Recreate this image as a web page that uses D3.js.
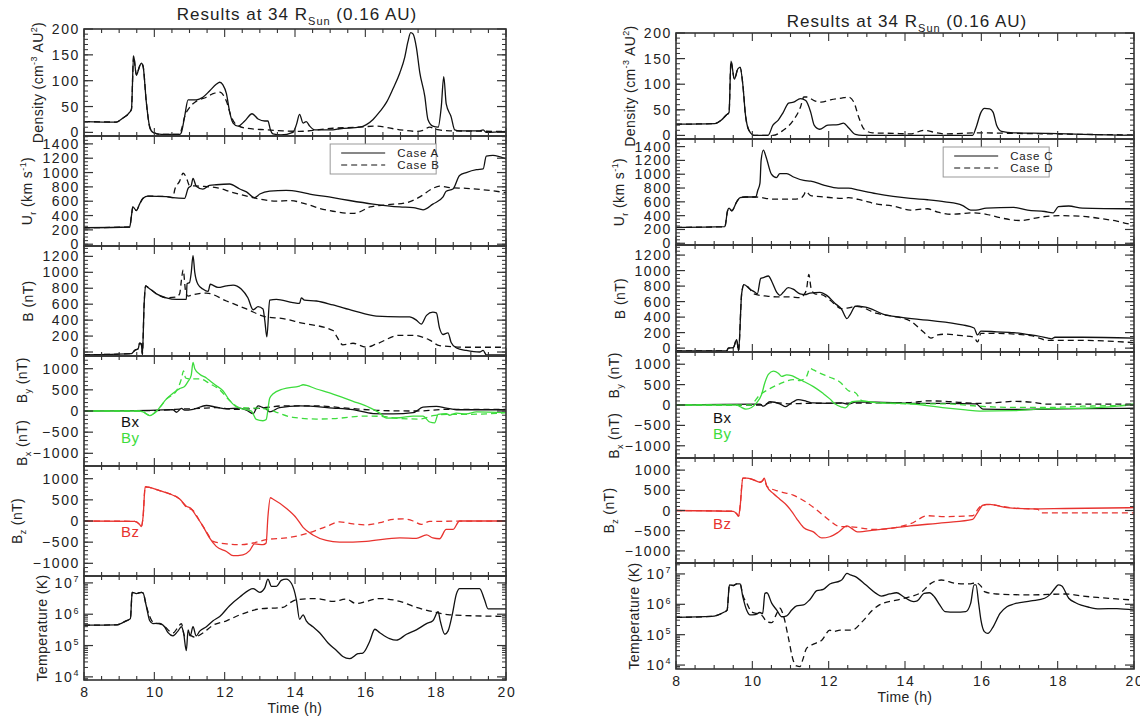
<!DOCTYPE html>
<html>
<head>
<meta charset="utf-8">
<script src="https://cdn.jsdelivr.net/npm/d3@7"></script>
<style>
body { margin: 0; background: #fff; }
text { font-family: "Liberation Sans", Arial, sans-serif; fill: #222; }
</style>
</head>
<body>
<svg id="svg1" width="1140" height="727"></svg>
<script>
// tick values and labels
var timeTicks = [8, 10, 12, 14, 16, 18, 20];
var densTicks = [0, 50, 100, 150, 200];
var speedTicks = [0, 200, 400, 600, 800, 1000, 1200, 1400];
var bTicks = [0, 200, 400, 600, 800, 1000, 1200];
var compTicks = [-1000, -500, 0, 500, 1000];
var tempExp = [4, 5, 6, 7];
var legendLeft = ['Case A', 'Case B'];
var legendRight = ['Case C', 'Case D'];

// ---- left column, case A (solid) / case B (dashed); [time h, value] ----
var densA = [[8,21],[8.92,20],[9.11,28],[9.3,39],[9.35,45],[9.41,148],[9.49,111],[9.58,128],[9.63,134],[9.68,128],[9.77,60],[9.87,10],[9.96,0],[10.2,-4],[10.72,-4],[10.77,0],[10.86,30],[10.96,63],[11.19,63],[11.38,68],[11.57,80],[11.76,93],[11.86,97],[11.95,92],[12.05,75],[12.14,40],[12.24,18],[12.38,12],[12.57,22],[12.78,36],[12.95,26],[13.14,22],[13.23,22],[13.3,5],[13.37,-3],[13.6,-5],[13.94,0],[14.04,15],[14.13,35],[14.23,18],[14.32,21],[14.42,12],[14.56,5],[15.08,5],[15.27,7],[15.84,10],[16.03,15],[16.22,25],[16.41,40],[16.6,58],[16.79,85],[16.98,115],[17.12,145],[17.21,175],[17.29,193],[17.36,190],[17.45,165],[17.55,115],[17.69,70],[17.78,25],[17.92,12],[18.07,10],[18.16,50],[18.23,108],[18.3,55],[18.44,30],[18.54,5],[18.68,3],[19.25,3],[19.35,5],[19.44,0],[20,2]];
var densB = [[8,21],[8.92,20],[9.11,28],[9.3,39],[9.35,45],[9.41,148],[9.49,111],[9.58,128],[9.63,134],[9.68,128],[9.77,60],[9.87,10],[9.96,0],[10.2,-4],[10.72,-4],[10.77,5],[10.86,30],[11,48],[11.19,60],[11.48,68],[11.67,75],[11.86,78],[12.05,60],[12.19,30],[12.33,15],[12.62,8],[13.18,5],[13.66,3],[14.13,2],[15.08,8],[15.74,10],[16.31,12],[16.98,5],[17.45,2],[17.64,4],[17.83,10],[18.02,6],[18.4,3],[20,2]];
var speedA = [[8,230],[9.3,240],[9.35,400],[9.39,520],[9.49,470],[9.58,560],[9.68,640],[9.82,670],[10.34,665],[10.53,650],[10.86,640],[10.96,780],[11.05,820],[11.1,920],[11.19,810],[11.38,770],[11.57,820],[11.76,830],[12.14,840],[12.43,770],[12.62,730],[12.85,650],[13,700],[13.28,740],[13.75,750],[14.13,730],[14.42,700],[15.08,650],[15.55,610],[16.22,560],[16.98,520],[17.36,510],[17.55,490],[17.64,480],[17.92,560],[18.21,660],[18.3,740],[18.49,770],[18.68,960],[18.87,1000],[19.16,1040],[19.35,1050],[19.44,1230],[19.63,1240],[20,1190]];
var speedB = [[8,230],[9.3,240],[9.35,400],[9.39,520],[9.49,470],[9.58,560],[9.68,640],[9.82,670],[10.34,665],[10.53,650],[10.58,760],[10.72,880],[10.82,990],[10.91,930],[11,820],[11.29,810],[11.76,790],[12.24,720],[12.9,640],[13.47,600],[13.85,610],[14.32,560],[14.7,500],[15.08,460],[15.65,430],[15.84,450],[16.13,520],[16.6,550],[17.17,580],[17.55,660],[17.92,780],[18.11,810],[18.4,790],[18.87,780],[19.35,760],[20,720]];
var bA = [[8,-35],[9.35,-20],[9.44,20],[9.54,40],[9.58,110],[9.63,100],[9.66,-30],[9.71,600],[9.75,830],[9.82,810],[10.06,730],[10.34,680],[10.63,660],[10.91,660],[10.93,860],[11,870],[11.05,1000],[11.1,1210],[11.15,1000],[11.24,850],[11.38,790],[11.53,760],[11.59,850],[11.81,810],[12.05,830],[12.24,840],[12.47,790],[12.66,680],[12.81,530],[12.95,570],[13.09,540],[13.14,400],[13.2,190],[13.28,650],[13.47,660],[13.94,620],[14.13,610],[14.18,680],[14.27,650],[14.61,640],[15.08,590],[15.65,520],[16.31,450],[16.98,440],[17.26,440],[17.45,400],[17.59,350],[17.74,460],[17.92,500],[18.02,490],[18.11,300],[18.21,220],[18.35,240],[18.44,120],[18.59,50],[18.87,20],[19.25,0],[19.35,20],[19.44,-35],[20,-35]];
var bB = [[8,-35],[9.35,-20],[9.44,20],[9.54,40],[9.58,110],[9.63,100],[9.66,-30],[9.71,600],[9.75,830],[9.82,810],[10.06,730],[10.34,680],[10.63,690],[10.72,730],[10.77,900],[10.82,1030],[10.89,760],[10.96,700],[11.1,720],[11.48,740],[12.05,640],[12.62,540],[13.18,440],[13.66,420],[14.13,370],[15.08,270],[15.18,200],[15.36,90],[15.65,110],[16.03,60],[16.31,100],[16.98,210],[17.36,210],[17.83,150],[18.11,80],[18.87,60],[20,60]];
var bxA = [[8,0],[10.06,20],[10.53,30],[10.63,-30],[10.77,60],[10.86,20],[11.1,40],[11.48,130],[11.76,90],[12.05,50],[12.43,70],[12.66,0],[12.81,-60],[12.95,120],[13.09,80],[13.18,50],[13.28,-20],[13.56,80],[14.13,120],[15.08,70],[15.65,30],[16.22,-60],[16.79,-70],[17.36,-40],[17.64,90],[18.02,110],[18.3,70],[18.59,30],[20,30]];
var bxB = [[8,0],[10.06,10],[10.6,40],[11.29,60],[11.76,80],[12.24,40],[12.95,60],[13.66,120],[14.61,120],[15.55,60],[16.5,10],[17.45,0],[18.4,40],[20,40]];
var byA = [[8,0],[9.58,0],[9.68,-20],[9.87,-110],[10.01,-50],[10.15,80],[10.34,280],[10.53,420],[10.72,530],[10.86,580],[10.96,700],[11.05,850],[11.1,1150],[11.15,1000],[11.29,870],[11.48,780],[11.57,720],[11.76,600],[11.95,480],[12.14,250],[12.33,100],[12.62,30],[12.76,0],[12.9,-200],[13.09,-230],[13.18,-200],[13.28,300],[13.37,400],[13.66,520],[14.13,590],[14.23,620],[14.61,520],[15.08,400],[15.65,230],[16.12,80],[16.41,-50],[16.6,-170],[16.98,-160],[17.36,-120],[17.64,-120],[17.83,-260],[17.97,-280],[18.07,-80],[18.3,-60],[18.4,-100],[18.59,-50],[18.87,-70],[19.16,-20],[20,-40]];
var byB = [[8,0],[9.58,0],[9.68,-20],[9.87,-100],[10.01,-40],[10.15,80],[10.34,280],[10.63,480],[10.77,760],[10.83,950],[10.89,780],[11,760],[11.29,760],[11.57,650],[11.86,500],[12.14,250],[12.43,80],[12.81,70],[13.18,50],[13.47,-30],[13.94,-150],[14.61,-190],[15.08,-180],[16.03,-120],[16.5,-130],[16.98,-180],[17.55,-190],[17.92,-110],[18.4,-80],[18.87,-80],[20,-40]];
var bzA = [[8,0],[9.44,-10],[9.58,-80],[9.63,-130],[9.68,100],[9.74,810],[9.82,800],[10.15,720],[10.44,640],[10.72,520],[10.91,350],[11.05,290],[11.19,120],[11.38,-120],[11.57,-400],[11.76,-600],[12.05,-720],[12.24,-820],[12.52,-800],[12.71,-700],[12.85,-540],[13.09,-560],[13.18,-520],[13.23,100],[13.3,550],[13.37,520],[13.75,300],[14.04,70],[14.23,-150],[14.51,-330],[14.89,-460],[15.27,-500],[16.03,-480],[16.98,-400],[17.45,-410],[17.74,-330],[17.92,-400],[18.11,-420],[18.3,-200],[18.49,-200],[18.68,0],[20,0]];
var bzB = [[8,0],[9.44,-10],[9.58,-80],[9.63,-130],[9.68,100],[9.74,810],[9.82,800],[10.15,720],[10.44,640],[10.72,520],[10.91,330],[11.1,250],[11.29,0],[11.48,-250],[11.67,-480],[12.05,-540],[12.43,-560],[12.81,-520],[13.18,-440],[13.75,-400],[14.32,-300],[14.89,-130],[15.27,-20],[15.65,-70],[16.03,-90],[16.41,-40],[16.79,40],[17.07,50],[17.36,0],[17.59,-80],[17.83,-10],[20,0]];
// temperature as log10(T / K)
var tempA = [[8,5.65],[8.92,5.66],[9.2,5.79],[9.32,5.86],[9.37,6.7],[9.49,6.66],[9.63,6.7],[9.68,6.68],[9.77,6.27],[9.87,5.79],[9.96,5.7],[10.15,5.71],[10.29,5.6],[10.39,5.41],[10.53,5.31],[10.67,5.46],[10.77,5.6],[10.83,5.41],[10.91,4.84],[10.96,5.5],[11.02,5.31],[11.1,5.6],[11.19,5.31],[11.29,5.46],[11.48,5.6],[11.67,5.79],[11.86,5.93],[12.14,6.27],[12.43,6.55],[12.81,6.82],[13,6.7],[13.14,6.84],[13.23,7.12],[13.33,6.89],[13.47,6.89],[13.61,7.08],[13.75,7.12],[13.9,6.98],[14.04,6.46],[14.13,5.84],[14.23,5.98],[14.32,5.79],[14.51,5.6],[14.7,5.41],[14.94,5.08],[15.18,4.84],[15.36,4.65],[15.55,4.58],[15.79,4.74],[15.93,4.76],[16.12,5.12],[16.27,5.52],[16.41,5.41],[16.69,5.22],[16.88,5.17],[17.17,5.36],[17.45,5.5],[17.74,5.7],[17.92,5.79],[18.07,6.08],[18.13,5.79],[18.26,5.36],[18.35,5.46],[18.47,5.98],[18.59,6.65],[18.68,6.82],[19.25,6.82],[19.39,6.46],[19.49,6.17],[20,6.17]];
var tempB = [[8,5.65],[8.92,5.66],[9.2,5.79],[9.32,5.86],[9.37,6.7],[9.49,6.66],[9.63,6.7],[9.68,6.68],[9.77,6.27],[9.87,5.93],[9.96,5.75],[10.25,5.65],[10.53,5.4],[10.67,5.58],[10.77,5.7],[10.86,5.31],[10.96,5.35],[11.15,5.27],[11.38,5.4],[11.67,5.65],[12.05,5.79],[12.43,5.98],[13,6.17],[13.66,6.22],[13.85,6.36],[14.04,6.46],[14.61,6.5],[15.08,6.41],[15.46,6.48],[15.74,6.34],[16.03,6.41],[16.41,6.5],[16.98,6.41],[17.45,6.22],[17.92,6.08],[18.4,5.98],[20,5.93]];

// ---- right column, case C (solid) / case D (dashed) ----
var densC = [[8,22],[9.01,23],[9.19,30],[9.32,40],[9.39,45],[9.44,145],[9.53,110],[9.62,130],[9.68,133],[9.75,100],[9.82,40],[9.91,10],[10.05,0],[10.41,0],[10.54,20],[10.68,30],[10.81,45],[10.95,63],[11.08,65],[11.26,72],[11.4,68],[11.53,45],[11.62,20],[11.76,12],[11.98,20],[12.25,21],[12.39,24],[12.52,15],[12.7,2],[12.88,0],[15.77,0],[15.86,15],[15.99,45],[16.08,53],[16.22,52],[16.31,45],[16.4,20],[16.53,8],[16.85,5],[17.75,4],[18.65,2],[20,0]];
var densD = [[8,22],[9.01,23],[9.19,30],[9.32,40],[9.39,45],[9.44,145],[9.53,110],[9.62,130],[9.68,133],[9.75,100],[9.82,40],[9.91,10],[10.05,0],[10.54,0],[10.81,10],[11.08,30],[11.26,55],[11.35,75],[11.44,75],[11.62,68],[11.8,65],[12.07,70],[12.34,73],[12.52,75],[12.66,65],[12.79,35],[12.93,12],[13.15,5],[13.69,4],[14.14,3],[14.5,10],[14.77,6],[15.05,3],[15.95,5],[16.85,4],[17.75,3],[18.65,2],[20,1]];
var speedC = [[8,230],[9.28,240],[9.35,470],[9.39,510],[9.46,470],[9.59,600],[9.68,660],[9.82,670],[10.09,670],[10.14,760],[10.2,870],[10.23,1200],[10.29,1350],[10.36,1250],[10.5,1000],[10.63,950],[10.72,1010],[10.9,1010],[11.08,960],[11.35,910],[11.53,900],[11.89,840],[12.25,800],[12.52,800],[12.79,770],[13.24,720],[13.69,680],[14.14,650],[14.59,630],[15.05,600],[15.5,550],[15.72,480],[15.86,480],[16.13,510],[16.85,520],[17.21,480],[17.66,460],[17.88,440],[18.02,530],[18.29,540],[18.65,510],[20,500]];
var speedD = [[8,230],[9.28,240],[9.35,470],[9.39,510],[9.46,470],[9.59,600],[9.68,660],[9.82,670],[10.09,670],[10.54,640],[11.08,640],[11.26,650],[11.35,700],[11.4,750],[11.53,690],[11.89,670],[12.34,650],[12.52,660],[12.88,620],[13.24,570],[13.69,540],[14.14,480],[14.59,500],[14.86,450],[15.23,420],[15.77,440],[16.13,420],[16.49,370],[17.03,330],[17.57,380],[18.02,400],[18.65,390],[19.1,360],[19.55,320],[20,260]];
var bC = [[8,-35],[9.33,-35],[9.37,0],[9.5,5],[9.59,110],[9.64,-35],[9.72,700],[9.78,820],[9.94,760],[10.07,720],[10.13,700],[10.22,900],[10.29,910],[10.42,930],[10.51,860],[10.64,720],[10.72,680],[10.81,720],[10.94,780],[11.07,760],[11.25,700],[11.38,690],[11.51,710],[11.77,720],[11.95,680],[12.16,580],[12.34,500],[12.48,380],[12.57,440],[12.7,540],[12.97,530],[13.42,440],[13.87,400],[14.59,360],[15.5,300],[15.81,260],[15.9,170],[15.99,220],[16.4,210],[16.85,200],[17.3,170],[17.75,130],[17.84,120],[17.93,140],[18.65,140],[20,130]];
var bD = [[8,-35],[9.33,-35],[9.37,0],[9.5,5],[9.59,110],[9.64,-35],[9.72,700],[9.78,820],[9.94,760],[10.03,700],[10.38,670],[10.72,660],[10.99,660],[11.25,650],[11.34,680],[11.42,760],[11.48,950],[11.54,770],[11.64,700],[11.82,690],[12.03,620],[12.34,510],[12.52,520],[12.75,540],[13.24,450],[13.69,410],[14.14,350],[14.5,200],[14.68,130],[14.86,170],[15.05,180],[15.5,160],[15.81,140],[15.9,80],[15.99,190],[16.4,190],[17.3,160],[17.75,100],[18.65,100],[20,70]];
var bxC = [[8,0],[10.2,20],[10.29,-30],[10.46,80],[10.72,30],[10.86,-40],[11.07,80],[11.2,130],[11.42,90],[11.6,50],[11.95,40],[12.34,50],[12.52,20],[12.7,70],[13.24,70],[14.14,40],[15.05,40],[15.86,30],[16.04,-100],[16.85,-110],[17.75,-100],[18.65,-90],[20,-80]];
var bxD = [[8,0],[10.2,0],[10.55,60],[10.99,30],[11.42,40],[13.24,50],[14.14,60],[14.59,100],[15.05,90],[15.5,60],[15.95,40],[16.4,60],[16.85,90],[17.3,70],[17.75,20],[20,20]];
var byC = [[8,0],[9.59,0],[9.68,-40],[9.83,-100],[9.98,-60],[10.11,50],[10.24,250],[10.33,550],[10.42,750],[10.55,830],[10.68,780],[10.77,700],[10.9,740],[11.03,720],[11.16,660],[11.34,580],[11.6,450],[11.86,280],[12.03,150],[12.16,30],[12.34,-50],[12.43,-70],[12.61,80],[12.88,100],[13.24,60],[14.14,30],[15.05,-70],[15.59,-120],[15.95,-150],[16.85,-140],[17.75,-90],[18.65,-80],[19.55,-30],[20,30]];
var byD = [[8,0],[9.94,0],[10.2,250],[10.46,400],[10.72,520],[11.07,620],[11.25,600],[11.42,700],[11.51,900],[11.6,860],[11.77,780],[12.03,680],[12.3,560],[12.52,350],[12.7,300],[12.88,100],[13.24,60],[14.14,30],[15.05,30],[15.95,-30],[16.85,-60],[17.75,-60],[18.65,-30],[20,-10]];
var bzC = [[8,0],[9.5,-20],[9.59,-80],[9.64,-140],[9.68,100],[9.75,800],[9.85,800],[10.03,760],[10.2,700],[10.27,740],[10.31,800],[10.38,600],[10.55,420],[10.72,280],[10.9,130],[11.03,-20],[11.16,-200],[11.34,-420],[11.6,-530],[11.82,-680],[12.03,-650],[12.25,-540],[12.48,-380],[12.61,-450],[12.75,-530],[13.24,-480],[14.14,-380],[15.05,-300],[15.77,-220],[15.9,-50],[16.04,130],[16.22,150],[16.67,70],[17.3,40],[18.2,50],[20,70]];
var bzD = [[8,0],[9.5,-20],[9.59,-80],[9.64,-140],[9.68,100],[9.75,800],[9.85,800],[10.03,760],[10.2,700],[10.27,740],[10.31,780],[10.38,600],[10.72,470],[11.07,380],[11.42,200],[11.77,-50],[12.03,-250],[12.3,-400],[12.48,-400],[13.24,-470],[14.14,-330],[14.59,-130],[15.05,-150],[15.77,-130],[15.95,80],[16.13,150],[16.85,60],[17.48,30],[17.57,-60],[20,-60]];
var tempC = [[8,5.57],[8.93,5.6],[9.24,5.73],[9.34,5.81],[9.4,6.64],[9.5,6.62],[9.59,6.67],[9.68,6.67],[9.75,6.25],[9.85,5.81],[9.94,5.65],[10.07,5.66],[10.2,5.73],[10.27,5.69],[10.33,6.36],[10.38,6.38],[10.51,6.03],[10.64,5.81],[10.77,5.59],[10.9,5.62],[11.03,5.81],[11.16,5.95],[11.34,5.98],[11.51,6.16],[11.69,6.45],[11.86,6.49],[12.03,6.67],[12.3,6.77],[12.34,6.8],[12.48,7.02],[12.57,6.97],[12.7,6.91],[12.97,6.64],[13.24,6.36],[13.38,6.27],[13.6,6.34],[13.78,6.38],[13.96,6.25],[14.23,6.09],[14.32,6.11],[14.5,6.36],[14.64,6.38],[14.77,6.25],[14.91,5.98],[15.05,5.76],[15.32,5.74],[15.59,5.76],[15.72,6.03],[15.81,6.64],[15.86,6.64],[15.93,6.03],[15.99,5.48],[16.08,5.1],[16.17,5.04],[16.31,5.26],[16.49,5.7],[16.67,5.92],[16.85,6.01],[17.3,6.11],[17.66,6.2],[17.79,6.31],[17.93,6.53],[18.02,6.64],[18.11,6.6],[18.29,6.2],[18.47,6.05],[18.83,5.9],[19.1,5.85],[19.55,5.86],[20,5.81]];
var tempD = [[8,5.57],[8.93,5.6],[9.24,5.73],[9.34,5.81],[9.4,6.64],[9.5,6.62],[9.59,6.67],[9.68,6.67],[9.75,6.3],[9.85,6.05],[9.98,5.75],[10.11,5.7],[10.24,5.65],[10.38,5.43],[10.51,5.4],[10.64,5.7],[10.72,5.87],[10.81,5.65],[10.94,4.93],[11.07,4.16],[11.16,3.97],[11.25,3.95],[11.32,4.17],[11.42,4.55],[11.6,4.69],[11.82,4.82],[12.03,5.15],[12.12,5.1],[12.3,5.15],[12.61,5.15],[12.88,5.43],[13.15,5.81],[13.33,5.98],[13.78,6.14],[14.14,6.25],[14.41,6.38],[14.68,6.69],[14.95,6.8],[15.32,6.69],[15.68,6.67],[15.86,6.71],[15.99,6.6],[16.08,6.42],[16.4,6.34],[17.3,6.31],[18.2,6.34],[18.65,6.27],[19.1,6.22],[20,6.14]];

var GREEN = '#3ddc3d', RED = '#e8332f', INK = '#111';
var svg = d3.select('#svg1');

var columns = [
    {x0: 84, x1: 506, edges: [29, 136, 246, 356, 466, 576, 680], titleY: 20, tExp: [3.9, 7.22], names: legendLeft,
     dens: [densA, densB], speed: [speedA, speedB], b: [bA, bB], bx: [bxA, bxB], by: [byA, byB], bz: [bzA, bzB], temp: [tempA, tempB]},
    {x0: 676, x1: 1134, edges: [33, 139, 245, 352, 458, 563, 669], titleY: 27, tExp: [3.87, 7.36], names: legendRight,
     dens: [densC, densD], speed: [speedC, speedD], b: [bC, bD], bx: [bxC, bxD], by: [byC, byD], bz: [bzC, bzD], temp: [tempC, tempD]}
];

// writes text with sub/superscripts: parts = [[str, 'sup'|'sub'|undefined], ...]
function rich(sel, parts, size) {
    var shift = 0;
    parts.forEach(function (p) {
        var s = p[1] === 'sup' ? -size * 0.4 : (p[1] === 'sub' ? size * 0.3 : 0);
        sel.append('tspan')
            .attr('dy', s - shift)
            .attr('font-size', s ? Math.round(size * 0.66) : size)
            .text(p[0]);
        shift = s;
    });
    return sel;
}

function fmt(v) { return v < 0 ? '\u2212' + Math.abs(v) : '' + v; }

columns.forEach(function (c, ci) {
    var x = d3.scaleLinear().domain([8, 20]).range([c.x0, c.x1]);

    var title = svg.append('text')
        .attr('x', (c.x0 + c.x1) / 2 + 2)
        .attr('y', c.titleY)
        .attr('text-anchor', 'middle')
        .attr('font-size', 17)
        .attr('letter-spacing', 1);
    rich(title, [['Results at 34 R'], ['Sun', 'sub'], [' (0.16 AU)']], 17);

    var panels = [
        {domain: [-7, 200], ticks: densTicks, minor: 10, off: 46,
         titles: [[[['Density (cm'], ['-3', 'sup'], [' AU'], ['2', 'sup'], [')']], 0.5]],
         lines: [[c.dens[0], INK, false], [c.dens[1], INK, true]]},
        {domain: [-25, 1510], ticks: speedTicks, minor: 50, off: 57,
         titles: [[[['U'], ['r', 'sub'], [' (km s'], ['-1', 'sup'], [')']], 0.5]],
         lines: [[c.speed[0], INK, false], [c.speed[1], INK, true]], legend: true},
        {domain: [-50, 1330], ticks: bTicks, minor: 50, off: 56,
         titles: [[[['B (nT)']], 0.5]],
         lines: [[c.b[0], INK, false], [c.b[1], INK, true]]},
        {domain: [-1300, 1300], ticks: compTicks, minor: 100, off: 62,
         titles: [[[['B'], ['y', 'sub'], [' (nT)']], 0.22], [[['B'], ['x', 'sub'], [' (nT)']], 0.79]],
         lines: [[c.bx[1], INK, true], [c.bx[0], INK, false], [c.by[1], GREEN, true], [c.by[0], GREEN, false]],
         tags: [['Bx', INK, 71], ['By', GREEN, 87]]},
        {domain: [-1300, 1300], ticks: compTicks, minor: 100, off: 67,
         titles: [[[['B'], ['z', 'sub'], [' (nT)']], 0.5]],
         lines: [[c.bz[1], RED, true], [c.bz[0], RED, false]],
         tags: [['Bz', RED, 71]]},
        {log: true, ticks: tempExp, off: 42,
         titles: [[[['Temperature (K)']], 0.5]],
         lines: [[c.temp[1], INK, true], [c.temp[0], INK, false]]}
    ];

    panels.forEach(function (p, i) {
        var top = c.edges[i], bot = c.edges[i + 1];
        var y, yv;
        if (p.log) {
            y = d3.scaleLog().domain([Math.pow(10, c.tExp[0]), Math.pow(10, c.tExp[1])]).range([bot, top]);
            yv = function (v) { return y(Math.pow(10, v)); };
        } else {
            y = d3.scaleLinear().domain(p.domain).range([bot, top]);
            yv = y;
        }
        var g = svg.append('g');
        var clipId = 'clip' + ci + '_' + i;
        svg.append('clipPath').attr('id', clipId)
            .append('rect').attr('x', c.x0).attr('y', top).attr('width', c.x1 - c.x0).attr('height', bot - top);

        var line = d3.line()
            .x(function (d) { return x(d[0]); })
            .y(function (d) { return yv(d[1]); })
            .curve(d3.curveMonotoneX);

        var lg = g.append('g').attr('clip-path', 'url(#' + clipId + ')');
        p.lines.forEach(function (s) {
            lg.append('path')
                .attr('d', line(s[0]))
                .attr('fill', 'none')
                .attr('stroke', s[1])
                .attr('stroke-width', 1.3)
                .attr('stroke-dasharray', s[2] ? '6,4' : null);
        });

        // frame
        g.append('rect')
            .attr('x', c.x0).attr('y', top)
            .attr('width', c.x1 - c.x0).attr('height', bot - top)
            .attr('fill', 'none').attr('stroke', '#333').attr('stroke-width', 1.6);

        // x ticks, every half hour, inward on top and bottom
        d3.range(8, 20.01, 0.5).forEach(function (t) {
            var len = (t % 2 === 0) ? 8 : 4;
            g.append('line').attr('x1', x(t)).attr('x2', x(t)).attr('y1', bot).attr('y2', bot - len)
                .attr('stroke', '#333').attr('stroke-width', 1.1);
            g.append('line').attr('x1', x(t)).attr('x2', x(t)).attr('y1', top).attr('y2', top + len)
                .attr('stroke', '#333').attr('stroke-width', 1.1);
        });

        // y ticks
        var majors, minors = [];
        if (p.log) {
            majors = p.ticks.map(function (e) { return Math.pow(10, e); });
            d3.range(Math.floor(c.tExp[0]), Math.ceil(c.tExp[1])).forEach(function (e) {
                d3.range(2, 10).forEach(function (m) { minors.push(m * Math.pow(10, e)); });
            });
        } else {
            majors = p.ticks;
            minors = d3.range(Math.ceil(p.domain[0] / p.minor) * p.minor, p.domain[1], p.minor);
        }
        var dom = y.domain();
        function inDom(v) { return v >= dom[0] && v <= dom[1]; }
        minors.filter(inDom).forEach(function (v) {
            g.append('line').attr('x1', c.x0).attr('x2', c.x0 + 4).attr('y1', y(v)).attr('y2', y(v))
                .attr('stroke', '#333').attr('stroke-width', 1);
            g.append('line').attr('x1', c.x1).attr('x2', c.x1 - 4).attr('y1', y(v)).attr('y2', y(v))
                .attr('stroke', '#333').attr('stroke-width', 1);
        });
        majors.filter(inDom).forEach(function (v, k) {
            g.append('line').attr('x1', c.x0).attr('x2', c.x0 + 9).attr('y1', y(v)).attr('y2', y(v))
                .attr('stroke', '#333').attr('stroke-width', 1.2);
            g.append('line').attr('x1', c.x1).attr('x2', c.x1 - 9).attr('y1', y(v)).attr('y2', y(v))
                .attr('stroke', '#333').attr('stroke-width', 1.2);
            var t = g.append('text')
                .attr('x', c.x0 - 4)
                .attr('y', y(v) + 5)
                .attr('text-anchor', 'end')
                .attr('font-size', 14)
                .attr('letter-spacing', 1.6);
            if (p.log) {
                rich(t, [['10'], ['' + p.ticks[k], 'sup']], 14);
            } else {
                t.text(fmt(v));
            }
        });

        // y titles
        p.titles.forEach(function (tt) {
            var cy = top + (bot - top) * tt[1];
            var lx = c.x0 - p.off;
            var t = g.append('text')
                .attr('transform', 'translate(' + (lx + 5) + ',' + cy + ') rotate(-90)')
                .attr('text-anchor', 'middle')
                .attr('font-size', 14)
                .attr('letter-spacing', 0.4);
            rich(t, tt[0], 14);
        });

        // component tags inside panel
        (p.tags || []).forEach(function (tg) {
            g.append('text')
                .attr('x', c.x0 + 37)
                .attr('y', top + tg[2])
                .attr('font-size', 15)
                .attr('letter-spacing', 0.5)
                .style('fill', tg[1])
                .text(tg[0]);
        });

        // legend
        if (p.legend) {
            var bx = x(15.0), by = top + 8, bw = 106, bh = 30;
            var lgd = g.append('g');
            lgd.append('rect').attr('x', bx).attr('y', by).attr('width', bw).attr('height', bh)
                .attr('fill', '#fff').attr('stroke', '#999').attr('stroke-width', 1);
            c.names.forEach(function (nm, k) {
                var ly = by + 9 + k * 12;
                lgd.append('line').attr('x1', bx + 11).attr('x2', bx + 55).attr('y1', ly).attr('y2', ly)
                    .attr('stroke', INK).attr('stroke-width', 1.2)
                    .attr('stroke-dasharray', k ? '6,4' : null);
                lgd.append('text').attr('x', bx + 67).attr('y', ly + 4)
                    .attr('font-size', 11.5).attr('letter-spacing', 0.8).text(nm);
            });
        }

        // bottom axis labels
        if (i === panels.length - 1) {
            timeTicks.forEach(function (t) {
                g.append('text')
                    .attr('x', x(t) + 1)
                    .attr('y', bot + 17)
                    .attr('text-anchor', 'middle')
                    .attr('font-size', 14)
                    .attr('letter-spacing', 1.6)
                    .text(t);
            });
            g.append('text')
                .attr('x', (c.x0 + c.x1) / 2)
                .attr('y', bot + 33)
                .attr('text-anchor', 'middle')
                .attr('font-size', 14)
                .attr('letter-spacing', 0.4)
                .text('Time (h)');
        }
    });
});
</script>
</body>
</html>
